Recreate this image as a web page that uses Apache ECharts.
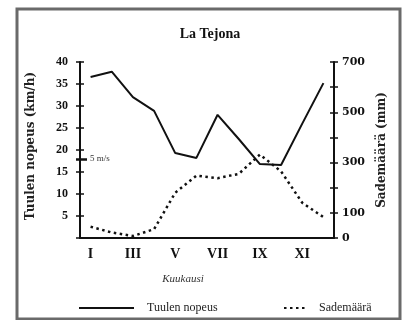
<!DOCTYPE html>
<html>
<head>
<meta charset="utf-8">
<script src="https://cdn.jsdelivr.net/npm/echarts@6/dist/echarts.min.js"></script>
<style>
  html, body { margin: 0; padding: 0; background: #fff; }
  #chart { width: 403px; height: 320px; }
</style>
</head>
<body>
<div id="chart"></div>
<script>
// Monthly wind speed and precipitation at La Tejona
const months = ['I', 'II', 'III', 'IV', 'V', 'VI', 'VII', 'VIII', 'IX', 'X', 'XI', 'XII'];
const windSpeed = [36.6, 37.8, 32.0, 28.9, 19.3, 18.2, 28.0, 22.5, 16.8, 16.6, 26.0, 35.2]; // km/h
const precipitation = [45, 22, 8, 35, 180, 248, 238, 255, 332, 265, 140, 83]; // mm
const windTicks = [0, 5, 10, 15, 20, 25, 30, 35, 40];
const rainLabels = [0, 100, 300, 500, 700];
const thresholdKmh = 18; // 5 m/s expressed in km/h
const thresholdLabel = '5 m/s';

const serif = '"Liberation Serif", "Times New Roman", serif';
const wideSerif = '"DejaVu Serif", serif';

const chart = echarts.init(document.getElementById('chart'), null, { renderer: 'canvas' });

const hiddenAxisBase = {
  axisLine: { show: false },
  axisLabel: { show: false },
  splitLine: { show: false }
};

const legendBase = {
  top: 302, padding: 0, itemHeight: 10,
  itemStyle: { opacity: 0 },
  textStyle: { fontFamily: serif, fontSize: 12, color: '#222', padding: [0, 0, 0, 8] }
};

chart.setOption({
  backgroundColor: '#fff',
  animation: false,
  title: {
    text: 'La Tejona',
    left: 205,
    top: 22,
    textAlign: 'center',
    textStyle: { fontFamily: serif, fontWeight: 'bold', fontSize: 14, color: '#111' }
  },
  legend: [
    Object.assign({ data: ['Tuulen nopeus'], left: 78, itemWidth: 55 }, legendBase),
    Object.assign({ data: ['Sademäärä'], left: 283, itemWidth: 22 }, legendBase)
  ],
  grid: { left: 80, right: 69, top: 62, bottom: 82 },
  xAxis: [
    {
      type: 'category',
      data: months,
      boundaryGap: true,
      name: 'Kuukausi',
      nameLocation: 'middle',
      nameGap: 36,
      nameTextStyle: { fontFamily: serif, fontStyle: 'italic', fontSize: 11, color: '#333', padding: [0, 48, 0, 0] },
      axisLine: { lineStyle: { color: '#111', width: 2 } },
      axisTick: { interval: 0, length: 4, lineStyle: { color: '#111', width: 1.5 } },
      axisLabel: { interval: 1, margin: 9, fontFamily: serif, fontWeight: 'bold', fontSize: 14, color: '#111' }
    },
    Object.assign({
      type: 'category',
      data: months,
      boundaryGap: true,
      position: 'bottom',
      axisTick: { interval: 0, inside: true, length: 4, lineStyle: { color: '#111', width: 1.5 } }
    }, hiddenAxisBase)
  ],
  yAxis: [
    {
      type: 'value', position: 'left', min: 0, max: 40, interval: 5,
      name: 'Tuulen nopeus (km/h)',
      nameLocation: 'middle', nameRotate: 90, nameGap: 43,
      nameTextStyle: { fontFamily: wideSerif, fontWeight: 'bold', fontSize: 12, color: '#222', padding: [0, 0, 0, 8] },
      axisLine: { show: true, lineStyle: { color: '#111', width: 2 } },
      axisTick: { show: true, length: 4, lineStyle: { color: '#111', width: 1.5 } },
      axisLabel: {
        margin: 12, fontFamily: serif, fontWeight: 'bold', fontSize: 12, color: '#111',
        formatter: v => (v === 0 ? '' : String(v))
      },
      splitLine: { show: false }
    },
    {
      type: 'value', position: 'right', min: 0, max: 700, interval: 100,
      name: 'Sademäärä (mm)',
      nameLocation: 'middle', nameRotate: 90, nameGap: 42,
      nameTextStyle: { fontFamily: wideSerif, fontWeight: 'bold', fontSize: 12, color: '#222', padding: [0, 0, 0, 0] },
      axisLine: { show: true, lineStyle: { color: '#111', width: 2 } },
      axisTick: { show: true, length: 4, lineStyle: { color: '#111', width: 1.5 } },
      axisLabel: {
        margin: 8, fontFamily: wideSerif, fontWeight: 'bold', fontSize: 11, color: '#111',
        formatter: v => (rainLabels.indexOf(v) >= 0 ? String(v) : '')
      },
      splitLine: { show: false }
    },
    // inner half of the crossing ticks on the left axis
    Object.assign({
      type: 'value', position: 'left', min: 0, max: 40, interval: 5,
      axisTick: { show: true, inside: true, length: 4, customValues: windTicks, lineStyle: { color: '#111', width: 1.5 } }
    }, hiddenAxisBase),
    // inner half of the crossing ticks on the right axis
    Object.assign({
      type: 'value', position: 'right', min: 0, max: 700, interval: 100,
      axisTick: { show: true, inside: true, length: 4, lineStyle: { color: '#111', width: 1.5 } }
    }, hiddenAxisBase),
    // 5 m/s threshold marker across the left axis
    Object.assign({
      type: 'value', position: 'left', min: 0, max: 40,
      axisTick: { show: true, length: 4, customValues: [thresholdKmh], lineStyle: { color: '#111', width: 2.5 } }
    }, hiddenAxisBase),
    {
      type: 'value', position: 'left', min: 0, max: 40,
      axisLine: { show: false },
      splitLine: { show: false },
      axisTick: { show: true, inside: true, length: 7, customValues: [thresholdKmh], lineStyle: { color: '#111', width: 2.5 } },
      axisLabel: {
        show: true, inside: true, margin: 10, customValues: [thresholdKmh],
        fontFamily: serif, fontSize: 9, color: '#333',
        formatter: () => thresholdLabel
      }
    }
  ],
  graphic: [
    {
      type: 'rect',
      shape: { x: 17, y: 9, width: 383, height: 310 },
      style: { fill: 'none', stroke: '#6a6a6a', lineWidth: 3 },
      silent: true
    }
  ],
  series: [
    {
      name: 'Tuulen nopeus',
      type: 'line',
      xAxisIndex: 0, yAxisIndex: 0,
      data: windSpeed,
      symbol: 'none',
      lineStyle: { color: '#111', width: 2 },
      itemStyle: { color: '#111' }
    },
    {
      name: 'Sademäärä',
      type: 'line',
      xAxisIndex: 0, yAxisIndex: 1,
      data: precipitation,
      symbol: 'none',
      lineStyle: { color: '#111', width: 2.5, type: [2.5, 3.5] },
      itemStyle: { color: '#111' }
    }
  ]
});
</script>
</body>
</html>
